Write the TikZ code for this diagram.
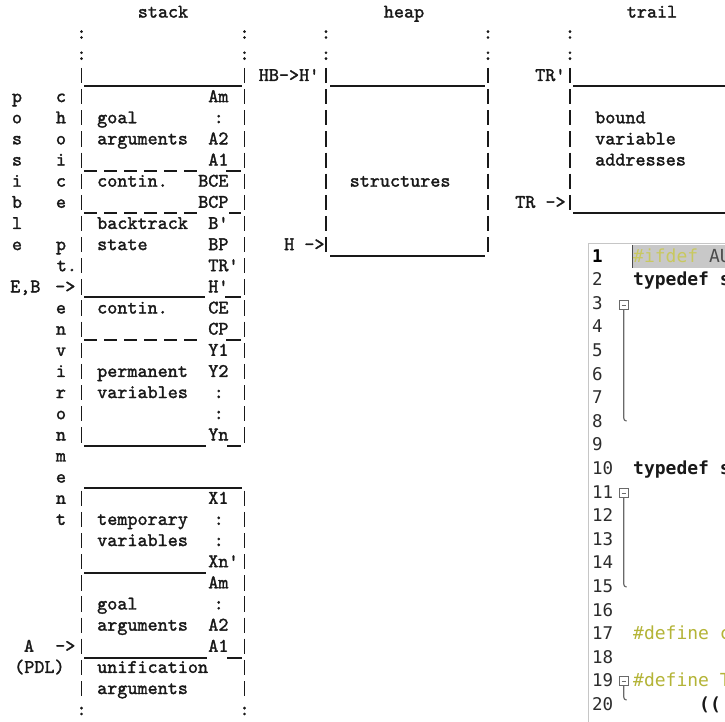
\documentclass[tikz,border=0pt]{standalone}
\usepackage{fontspec}
\newfontfamily\edfont{DejaVu Sans Mono}
\newfontfamily\twfont{lmmono10-regular}[Extension=.otf, FakeBold=1.6]
\definecolor{defcol}{RGB}{180,180,55}
\definecolor{ifcol}{RGB}{200,200,95}
\definecolor{hlcol}{RGB}{200,200,200}
\definecolor{numcol}{RGB}{45,45,45}
\definecolor{foldcol}{RGB}{105,105,105}
\definecolor{ink}{RGB}{25,25,25}
\begin{document}
\begin{tikzpicture}[
  tw/.style={font=\twfont\fontsize{19.2}{20}\selectfont, inner sep=0pt, text=ink, yshift=-2pt},
  lbl/.style={tw, anchor=mid west},
  ctr/.style={tw, anchor=mid},
  bar/.style={line width=1.7pt, draw=ink},
  uline/.style={line width=1.5pt, draw=ink},
  dline/.style={uline, dash pattern=on 13pt off 7pt},
  ed/.style={font=\edfont\fontsize{17.5}{18}\selectfont, inner sep=0pt, anchor=base west},
  edb/.style={font=\edfont\bfseries\fontsize{18}{18}\selectfont, inner sep=0pt, anchor=base west},
  edn/.style={font=\edfont\fontsize{18}{18}\selectfont, inner sep=0pt, anchor=base west},
  fold/.style={draw=foldcol, line width=0.9pt},
]
\path[use as bounding box] (0,0) rectangle (725pt,-722pt);
\fill[white] (0,0) rectangle (725pt,-722pt);

\begin{scope}[x=1pt, y=-21.14pt, shift={(0pt,-13.4pt)}]
  % titles
  \node[ctr] (tstack) at (163,0) {stack};
  \node[ctr] (theap)  at (404,0) {heap};
  \node[ctr] (ttrail) at (652,0) {trail};

  % dotted continuation marks
  \foreach \x/\n in {81.5/sl,244.5/sr,326/hl,488/hr,570/tl} {
    \foreach \k in {1,2} { \node[ctr] (c\n\k) at (\x,\k) {:}; }
  }
  \node[ctr] (cslb) at (81.5,33) {:};
  \node[ctr] (csrb) at (244.5,33) {:};

  % vertical borders made of bars
  \foreach \x in {81.5,244.5} {
    \foreach \k in {3,...,20} { \draw[bar] (\x,\k-0.42) -- (\x,\k+0.30); }
    \foreach \k in {23,...,32} { \draw[bar] (\x,\k-0.42) -- (\x,\k+0.30); }
  }
  \foreach \x in {326,488} {
    \foreach \k in {3,...,11} { \draw[bar] (\x,\k-0.42) -- (\x,\k+0.30); }
  }
  \foreach \k in {3,...,9} { \draw[bar] (570,\k-0.42) -- (570,\k+0.30); }

  % left vertical words
  \foreach \ch [count=\i from 4] in {p,o,s,s,i,b,l,e} { \node[ctr] (pos\i) at (17,\i) {\ch}; }
  \foreach \ch [count=\i from 4] in {c,h,o,i,c,e} { \node[ctr] (cho\i) at (61,\i) {\ch}; }
  \node[ctr] (pt11) at (61,11) {p};
  \node[lbl] (pt12) at (56.6,12) {t.};
  \foreach \ch [count=\i from 14] in {e,n,v,i,r,o,n,m,e,n,t} { \node[ctr] (env\i) at (61,\i) {\ch}; }
  \node[lbl] (eb) at (10,13) {E,B};
  \node[lbl] (ebarr) at (55,13) {->};
  \node[ctr] (areg) at (29,30) {A};
  \node[lbl] (aarr) at (55,30) {->};
  \node[lbl] (pdl) at (14,31) {(PDL)};

  % stack frame texts
  \foreach \r/\t in {5/goal,6/arguments,8/contin.,10/backtrack,11/state,14/contin.,
                     17/permanent,18/variables,24/temporary,25/variables,28/goal,
                     29/arguments,31/unification,32/arguments} {
    \node[lbl] (s\r) at (97,\r) {\t};
  }
  \foreach \r/\t in {4/Am,6/A2,7/A1,10/B',11/BP,12/TR',13/H',14/CE,15/CP,16/Y1,17/Y2,
                     20/Yn,23/X1,26/Xn',27/Am,29/A2,30/A1} {
    \node[lbl] (r\r) at (208.1,\r) {\t};
  }
  \node[lbl] (r8) at (198,8) {BCE};
  \node[lbl] (r9) at (198,9) {BCP};
  \foreach \r in {5,18,19,24,25,28} { \node[lbl] (d\r) at (213.5,\r) {:}; }

  % stack horizontal rules
  \draw[uline] (84,3.43) -- (242,3.43);
  \draw[dline] (84,7.45) -- (200,7.45);  \draw[uline] (226,7.45) -- (241,7.45);
  \draw[dline] (84,9.44) -- (197,9.44);  \draw[uline] (229,9.44) -- (241,9.44);
  \draw[uline] (84,13.41) -- (205,13.41); \draw[uline] (225,13.41) -- (241,13.41);
  \draw[dline] (84,15.45) -- (198,15.45); \draw[uline] (226,15.45) -- (241,15.45);
  \draw[uline] (84,20.46) -- (206,20.46); \draw[uline] (227,20.46) -- (241,20.46);
  \draw[uline] (84,22.45) -- (242,22.45);
  \draw[uline] (84,26.47) -- (206,26.47);
  \draw[uline] (84,30.49) -- (207,30.49); \draw[uline] (227,30.49) -- (242,30.49);

  % heap
  \node[lbl] (hb) at (258.6,3) {HB->H'};
  \node[lbl] (hstr) at (349.5,8) {structures};
  \node[lbl] (hh) at (284,11) {H ->};
  \draw[uline] (330,3.43) -- (485,3.43);
  \draw[uline] (330,11.47) -- (485,11.47);

  % trail
  \node[lbl] (trp) at (535,3) {TR'};
  \node[lbl] (tr) at (515,9) {TR ->};
  \node[lbl] (tb1) at (595,5) {bound};
  \node[lbl] (tb2) at (595,6) {variable};
  \node[lbl] (tb3) at (595,7) {addresses};
  \draw[uline] (573,3.43) -- (725,3.43);
  \draw[uline] (573,9.44) -- (725,9.44);
\end{scope}

% code editor overlay
\begin{scope}[x=1pt, y=-1pt]
  \fill[white] (588,243) rectangle (725,722);
  \draw[gray!45, line width=0.8pt] (588.4,722) -- (588.4,243.4) -- (725,243.4);
  \fill[hlcol] (632,245) rectangle (725,268);
  \draw[gray!60!black, line width=0.8pt] (632.6,245) -- (632.6,268);
  \node[ed, font=\edfont\bfseries\fontsize{17.5}{18}\selectfont, text=black] (ln1) at (592,262) {1};
  \foreach \n in {2,...,20} { \node[ed, text=numcol] (ln\n) at (592,{262+23.6*(\n-1)}) {\n}; }
  \begin{scope}
    \clip (589,244) rectangle (725,722);
    \node[edn] (code1) at (633,262) {\textcolor{ifcol}{\#ifdef} \textcolor{black!70}{AU}};
    \node[edb, text=black!90] (code2) at (633,285.6) {typedef s};
    \node[edb, text=black!90] (code10) at (633,474.4) {typedef s};
    \node[edn, text=defcol] (code17) at (633,639.6) {\#define c};
    \node[edn, text=defcol] (code19) at (633,686.8) {\#define T};
    \node[edb, text=black!90] (code20) at (699,710.4) {((};
  \end{scope}
  % fold markers
  \foreach \a/\b in {305/421,493/587,681/700} {
    \draw[fold, fill=white] (619.5,\a-4.5) rectangle (628,\a+4.5);
    \draw[fold, line width=0.8pt] (621.5,\a) -- (626,\a);
    \draw[fold, line width=1.2pt] (623.7,\a+4.5) -- (623.7,\b-3) to[out=-90,in=180] (626.5,\b);
  }
\end{scope}
\end{tikzpicture}
\end{document}
